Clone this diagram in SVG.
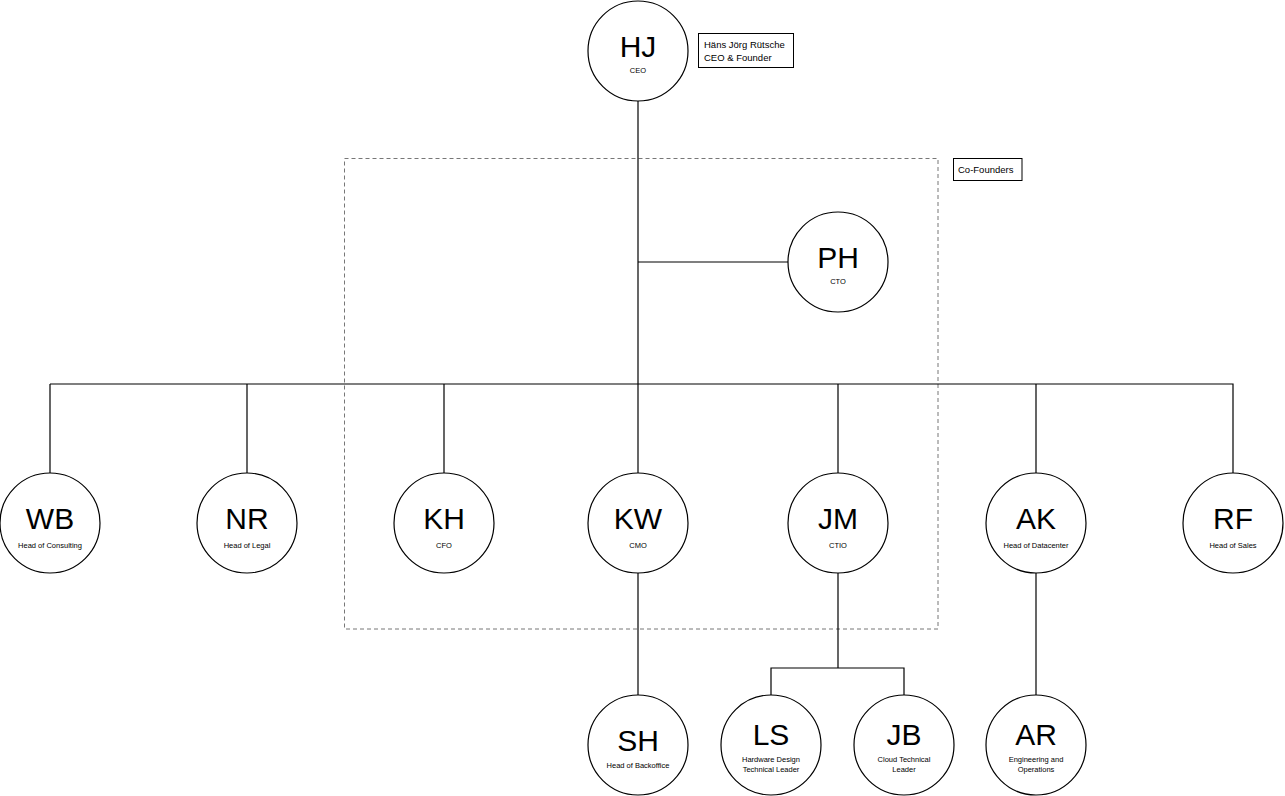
<svg xmlns="http://www.w3.org/2000/svg" width="1285" height="796" viewBox="0 0 1285 796">
<style>
.n{fill:#fff;stroke:#000;stroke-width:1.2}
.b{font-family:"Liberation Sans",Arial,sans-serif;font-size:30px;text-anchor:middle;fill:#000}
.s{font-family:"Liberation Sans",Arial,sans-serif;font-size:7.5px;text-anchor:middle;fill:#000}
.l{font-family:"Liberation Sans",Arial,sans-serif;font-size:9.5px;fill:#000}
.c{fill:none;stroke:#000;stroke-width:1.2}
.box{fill:#fff;stroke:#000;stroke-width:1}
</style>
<rect x="0" y="0" width="1285" height="796" fill="#fff"/>
<g id="cofounders-group">
<rect x="344.5" y="158.5" width="593.5" height="470.5" fill="none" stroke="#777" stroke-width="1" stroke-dasharray="4 3"/>
</g>
<g id="connectors">
<path class="c" d="M638 101V473"/>
<path class="c" d="M638 262H788"/>
<path class="c" d="M50 384H1233V473"/>
<path class="c" d="M50 384V473M247 384V473M444 384V473M838 384V473M1036 384V473"/>
<path class="c" d="M638 573V695"/>
<path class="c" d="M838 573V668M771 695V668H904V695"/>
<path class="c" d="M1036 573V695"/>
</g>
<g id="HJ"><circle class="n" cx="638" cy="51" r="50"/><text class="b" x="638" y="57">HJ</text><text class="s" x="638" y="73">CEO</text></g>
<g id="HJ-label"><rect class="box" x="698.5" y="33.5" width="95" height="34"/><text class="l" x="704" y="48">Häns Jörg Rütsche</text><text class="l" x="704" y="61">CEO &amp; Founder</text></g>
<g id="cofounders-label"><rect class="box" x="953.5" y="158.5" width="68.5" height="22"/><text class="l" x="958" y="173">Co-Founders</text></g>
<g id="PH"><circle class="n" cx="838" cy="262" r="50"/><text class="b" x="838" y="268">PH</text><text class="s" x="838" y="284">CTO</text></g>
<g id="WB"><circle class="n" cx="50" cy="523" r="50"/><text class="b" x="50" y="529">WB</text><text class="s" x="50" y="548">Head of Consulting</text></g>
<g id="NR"><circle class="n" cx="247" cy="523" r="50"/><text class="b" x="247" y="529">NR</text><text class="s" x="247" y="548">Head of Legal</text></g>
<g id="KH"><circle class="n" cx="444" cy="523" r="50"/><text class="b" x="444" y="529">KH</text><text class="s" x="444" y="548">CFO</text></g>
<g id="KW"><circle class="n" cx="638" cy="523" r="50"/><text class="b" x="638" y="529">KW</text><text class="s" x="638" y="548">CMO</text></g>
<g id="JM"><circle class="n" cx="838" cy="523" r="50"/><text class="b" x="838" y="529">JM</text><text class="s" x="838" y="548">CTIO</text></g>
<g id="AK"><circle class="n" cx="1036" cy="523" r="50"/><text class="b" x="1036" y="529">AK</text><text class="s" x="1036" y="548">Head of Datacenter</text></g>
<g id="RF"><circle class="n" cx="1233" cy="523" r="50"/><text class="b" x="1233" y="529">RF</text><text class="s" x="1233" y="548">Head of Sales</text></g>
<g id="SH"><circle class="n" cx="638" cy="745" r="50"/><text class="b" x="638" y="751">SH</text><text class="s" x="638" y="768">Head of Backoffice</text></g>
<g id="LS"><circle class="n" cx="771" cy="745" r="50"/><text class="b" x="771" y="745">LS</text><text class="s" x="771" y="762">Hardware Design</text><text class="s" x="771" y="772">Technical Leader</text></g>
<g id="JB"><circle class="n" cx="904" cy="745" r="50"/><text class="b" x="904" y="745">JB</text><text class="s" x="904" y="762">Cloud Technical</text><text class="s" x="904" y="772">Leader</text></g>
<g id="AR"><circle class="n" cx="1036" cy="745" r="50"/><text class="b" x="1036" y="745">AR</text><text class="s" x="1036" y="762">Engineering and</text><text class="s" x="1036" y="772">Operations</text></g>
</svg>
